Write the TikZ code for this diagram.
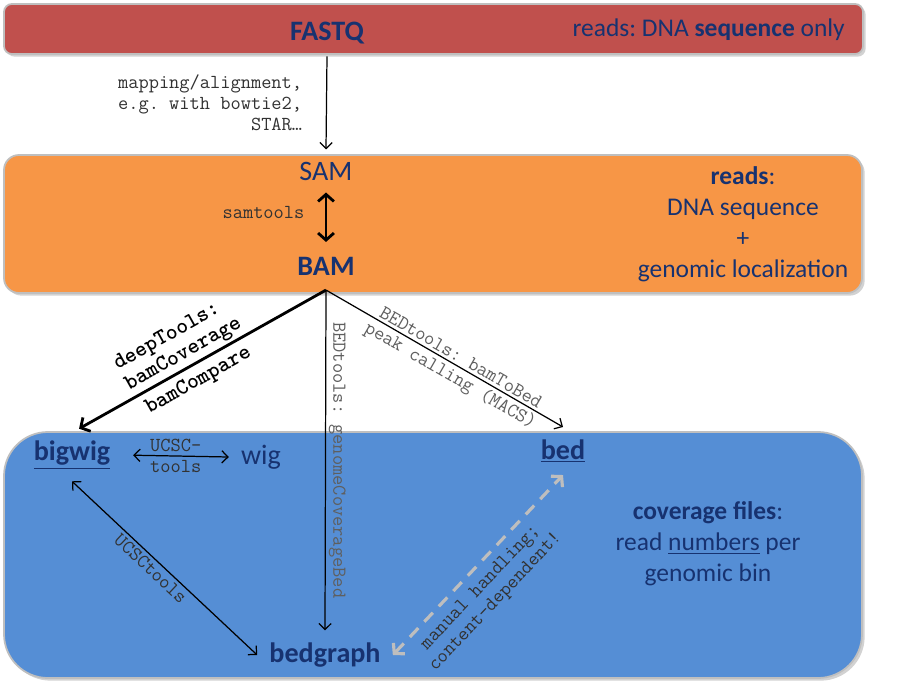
\documentclass[tikz,border=0pt]{standalone}
\usepackage{fontspec}
\setmainfont{Carlito}
\usetikzlibrary{arrows.meta,shadows,positioning}
\frenchspacing

\definecolor{fastqred}{RGB}{192,80,77}
\definecolor{samorange}{RGB}{247,150,70}
\definecolor{covblue}{RGB}{85,142,213}
\definecolor{navy}{RGB}{23,50,112}
\definecolor{tooltext}{RGB}{50,50,50}
\definecolor{bedtext}{RGB}{95,95,95}
\definecolor{dashgray}{RGB}{190,190,190}

\begin{document}
\begin{tikzpicture}[x=0.02cm, y=-0.02cm,
    format/.style={text=navy, font=\fontsize{16}{19}\selectfont, inner sep=2pt, outer sep=5pt},
    info/.style={text=navy, font=\fontsize{14.5}{17.6}\selectfont, align=center},
    tool/.style={text=tooltext, font=\ttfamily\fontsize{11.3}{11.8}\selectfont, inner sep=1.5pt},
    toolbold/.style={text=black, font=\ttfamily\bfseries\fontsize{12.8}{13.2}\selectfont, inner sep=1.5pt},
    layer/.style={draw=black!25, line width=1pt, drop shadow={shadow xshift=1.5pt, shadow yshift=-1.5pt, opacity=0.35}},
    conv/.style={->, line width=0.7pt, >={Straight Barb[length=3.5pt,width=7pt]}},
    twoway/.style={conv, <->},
    heavy/.style={->, line width=1.6pt, >={Straight Barb[length=4pt,width=9pt]}},
    dashlink/.style={<->, dashgray, line width=1.8pt, dash pattern=on 7pt off 5pt, >={Straight Barb[length=4pt,width=9pt]}}]

    \path[fill=white, use as bounding box] (0,0) rectangle (900,700);

    % layers
    \path[layer, fill=fastqred, rounded corners=4.5pt] (4,4) rectangle (863,54);
    \path[layer, fill=samorange, rounded corners=8.5pt] (4,155) rectangle (862,293);
    \path[layer, fill=covblue, rounded corners=25pt] (4,432) rectangle (862,678);

    \node(fastq) at (327,33) [format] {\bfseries FASTQ};
    \node(fastqinfo) at (851,30) [info, anchor=east] {reads: DNA \textbf{sequence} only};

    \node(sam) at (326,171) [format] {SAM};
    \node(bam) at (326,266) [format, outer sep=6.5pt] {\bfseries BAM};
    \node(readsinfo) at (743,224) [info] {\textbf{reads}:\\DNA sequence\\+\\genomic localization};

    \node(bigwig) at (72,455) [format] {\bfseries\underline{bigwig}};
    \node(wig) at (261,457) [format] {wig};
    \node(bed) at (563,451) [format] {\bfseries\underline{bed}};
    \node(bedgraph) at (325,655) [format] {\bfseries bedgraph};
    \node(covinfo) at (708,544) [info] {\textbf{coverage files}:\\read \underline{numbers} per\\genomic bin};

    \draw (fastq.south) edge[conv] node[tool, left=12pt, align=right]{mapping/alignment,\\e.g. with bowtie2,\\STAR…} (sam.north);
    \draw (sam.south) edge[heavy, <->] node[tool, left=10pt, pos=0.4]{samtools} (bam.north);

    \draw (bam.south) edge[heavy] node[toolbold, sloped, above, pos=0.55, align=left]{deepTools:\\bamCoverage} node[toolbold, sloped, below=2pt, pos=0.55]{bamCompare} (bigwig.75);
    \draw (bam.south) edge[conv] node[tool, text=bedtext, midway, rotate=-90, anchor=south]{BEDtools: genomeCoverageBed} (bedgraph.north);
    \draw (bam.south) edge[conv] node[tool, text=bedtext, sloped, above, pos=0.55]{BEDtools: bamToBed} node[tool, text=bedtext, sloped, below, pos=0.55]{peak calling (MACS)} (bed.north);

    \draw (bigwig.east) edge[twoway, shorten <=6pt] node[tool, align=center, inner sep=0pt]{UCSC-\\tools} (wig.west);
    \draw (bigwig.south) edge[twoway] node[tool, sloped, below, pos=0.46]{UCSCtools} (bedgraph.west);
    \draw (bedgraph.east) edge[dashlink] node[tool, sloped, below=3pt, pos=0.44, align=center]{manual handling;\\content-dependent!} (bed.south);
\end{tikzpicture}
\end{document}
